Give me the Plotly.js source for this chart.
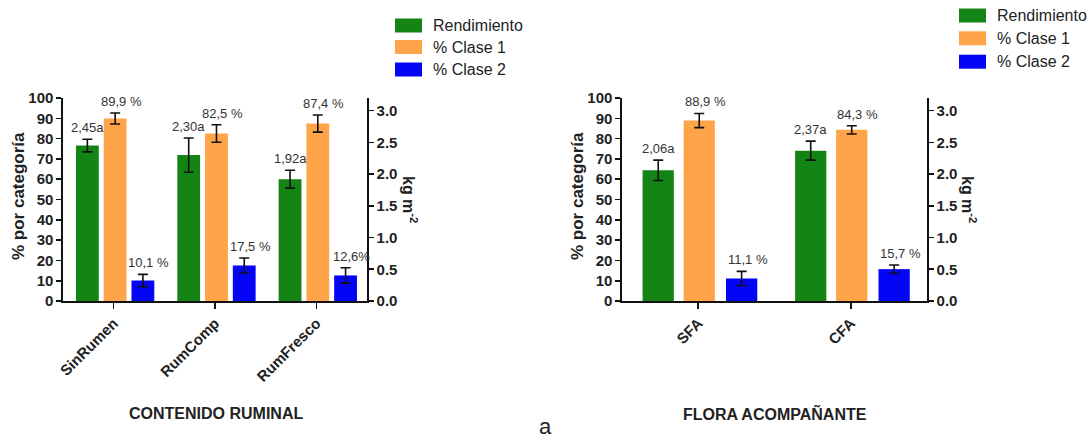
<!DOCTYPE html>
<html>
<head>
<meta charset="utf-8">
<script src="https://cdn.plot.ly/plotly-3.0.1.min.js"></script>
<style>html,body{margin:0;padding:0;background:#fff;}#chart{width:1088px;height:440px;}</style>
</head>
<body>
<div id="chart"></div>
<script>
// ---------- DATA ----------
const seriesNames = ["Rendimiento", "% Clase 1", "% Clase 2"];
const seriesColors = ["#148414", "#FFA448", "#0505F5"];

const catsRum = ["SinRumen", "RumComp", "RumFresco"];
const rendRum = [2.45, 2.30, 1.92];          // kg m-2 (right axis)
const rendRumErr = [0.10, 0.27, 0.14];
const clase1Rum = [89.9, 82.5, 87.4];        // %
const clase1RumErr = [2.7, 4.3, 4.2];
const clase2Rum = [10.1, 17.5, 12.6];        // %
const clase2RumErr = [3.0, 3.7, 3.8];
const rendRumLbl = ["2,45a", "2,30a", "1,92a"];
const clase1RumLbl = ["89,9 %", "82,5 %", "87,4 %"];
const clase2RumLbl = ["10,1 %", "17,5 %", "12,6%"];

const catsFlora = ["SFA", "CFA"];
const rendFlora = [2.06, 2.37];
const rendFloraErr = [0.16, 0.15];
const clase1Flora = [88.9, 84.3];
const clase1FloraErr = [3.5, 2.0];
const clase2Flora = [11.1, 15.7];
const clase2FloraErr = [3.5, 2.0];
const rendFloraLbl = ["2,06a", "2,37a"];
const clase1FloraLbl = ["88,9 %", "84,3 %"];
const clase2FloraLbl = ["11,1 %", "15,7 %"];

const yTitle = "% por categoría";
const y2Title = "kg m<sup>-2</sup>";
const xTitleRum = "CONTENIDO RUMINAL";
const xTitleFlora = "FLORA ACOMPAÑANTE";
const panelLetter = "a";

// ---------- STYLE ----------
const FONT = "Liberation Sans, Arial, sans-serif";
const W = 1088, H = 440;
const px = v => v / W;
const py = v => 1 - v / H;

const panels = [
  { cats: catsRum, vals: [rendRum, clase1Rum, clase2Rum], errs: [rendRumErr, clase1RumErr, clase2RumErr],
    lbls: [rendRumLbl, clase1RumLbl, clase2RumLbl], xa: "x", ya: "y", ya2: "y2",
    width: 0.225, offsets: [-0.372, -0.098, 0.176], xTitle: xTitleRum,
    xDom: [63, 367], xTitlePos: 216, legX: 395, legY: [25.5, 47, 69.5], y2TitleX: 410, yTitleX: 18 },
  { cats: catsFlora, vals: [rendFlora, clase1Flora, clase2Flora], errs: [rendFloraErr, clase1FloraErr, clase2FloraErr],
    lbls: [rendFloraLbl, clase1FloraLbl, clase2FloraLbl], xa: "x2", ya: "y3", ya2: "y4",
    width: 0.205, offsets: [-0.365, -0.096, 0.182], xTitle: xTitleFlora,
    xDom: [622, 927], xTitlePos: 775, legX: 959, legY: [15.5, 38.3, 61.7], y2TitleX: 969, yTitleX: 577 }
];

const yTop = 98, yBot = 301;
const traces = [], annotations = [], shapes = [];

function paperText(x, y, text, font, extra) {
  return Object.assign({ xref: "paper", yref: "paper", x: px(x), y: py(y), text: text,
    showarrow: false, xanchor: "center", yanchor: "middle", font: font }, extra || {});
}

panels.forEach(p => {
  for (let s = 0; s < 3; s++) {
    const onRight = (s === 0);
    const yref = onRight ? p.ya2 : p.ya;
    traces.push({
      type: "bar", x: p.cats, y: p.vals[s], xaxis: p.xa, yaxis: yref,
      name: seriesNames[s], showlegend: false,
      width: p.width, offset: p.offsets[s],
      marker: { color: seriesColors[s], line: { width: 0 } },
      error_y: { type: "data", array: p.errs[s], visible: true, color: "#111", thickness: 1.6, width: 5 },
      hoverinfo: "skip"
    });
    p.cats.forEach((c, i) => {
      annotations.push({
        xref: p.xa, yref: yref, x: i + p.offsets[s] + p.width / 2, y: p.vals[s][i] + p.errs[s][i],
        text: p.lbls[s][i], showarrow: false, xanchor: "center", yanchor: "bottom", yshift: 2,
        xshift: onRight ? 0 : 6,
        font: { family: FONT, size: 13, color: "#333" }
      });
    });
  }
  // axis titles
  annotations.push(paperText(p.y2TitleX, 199, y2Title,
    { family: FONT, size: 16, color: "#222", weight: "bold" }, { textangle: 90 }));
  annotations.push(paperText(p.yTitleX, 196, yTitle,
    { family: FONT, size: 17, color: "#222", weight: "bold" }, { textangle: -90 }));
  annotations.push(paperText(p.xTitlePos, 413, p.xTitle,
    { family: FONT, size: 16, color: "#222", weight: "bold" }));
  // legend
  seriesNames.forEach((n, s) => {
    const cy = p.legY[s];
    shapes.push({ type: "rect", xref: "paper", yref: "paper",
      x0: px(p.legX), x1: px(p.legX + 27), y0: py(cy + 7), y1: py(cy - 7),
      fillcolor: seriesColors[s], line: { width: 0 } });
    annotations.push(paperText(p.legX + 36, cy, n,
      { family: FONT, size: 16, color: "#222" }, { xanchor: "left" }));
  });
});

annotations.push(paperText(545, 426.5, panelLetter, { family: FONT, size: 22, color: "#222" }, { borderpad: 0 }));

const yDom = [1 - yBot / H, 1 - yTop / H];
const xAxisBase = {
  type: "category", showline: true, linecolor: "#111", linewidth: 1.6, showgrid: false, zeroline: false,
  ticks: "outside", ticklen: 6, tickwidth: 1.6, tickcolor: "#111", tickangle: -45,
  tickfont: { family: FONT, size: 15, color: "#222", weight: "bold" }, fixedrange: true
};
const yAxisBase = {
  domain: yDom, range: [0, 100], dtick: 10, showline: true, linecolor: "#111", linewidth: 1.6,
  showgrid: false, zeroline: false, ticks: "outside", ticklen: 5, tickwidth: 1.6, tickcolor: "#111",
  tickfont: { family: FONT, size: 15, color: "#222", weight: "bold" }, fixedrange: true
};
const y2Base = Object.assign({}, yAxisBase, { range: [0, 3.2], dtick: 0.5, tickformat: ".1f", side: "right" });

const layout = {
  width: W, height: H, margin: { l: 0, r: 0, t: 0, b: 0 },
  paper_bgcolor: "#fff", plot_bgcolor: "#fff", showlegend: false, barmode: "overlay",
  font: { family: FONT },
  xaxis: Object.assign({}, xAxisBase, { domain: [px(63), px(367)], anchor: "y", range: [-0.5, 2.5] }),
  xaxis2: Object.assign({}, xAxisBase, { domain: [px(622), px(927)], anchor: "y3", range: [-0.5, 1.5] }),
  yaxis: Object.assign({}, yAxisBase, { anchor: "x" }),
  yaxis2: Object.assign({}, y2Base, { anchor: "x", overlaying: "y" }),
  yaxis3: Object.assign({}, yAxisBase, { anchor: "x2" }),
  yaxis4: Object.assign({}, y2Base, { anchor: "x2", overlaying: "y3" }),
  annotations: annotations, shapes: shapes
};

Plotly.newPlot("chart", traces, layout, { displayModeBar: false, staticPlot: true });
</script>
</body>
</html>
